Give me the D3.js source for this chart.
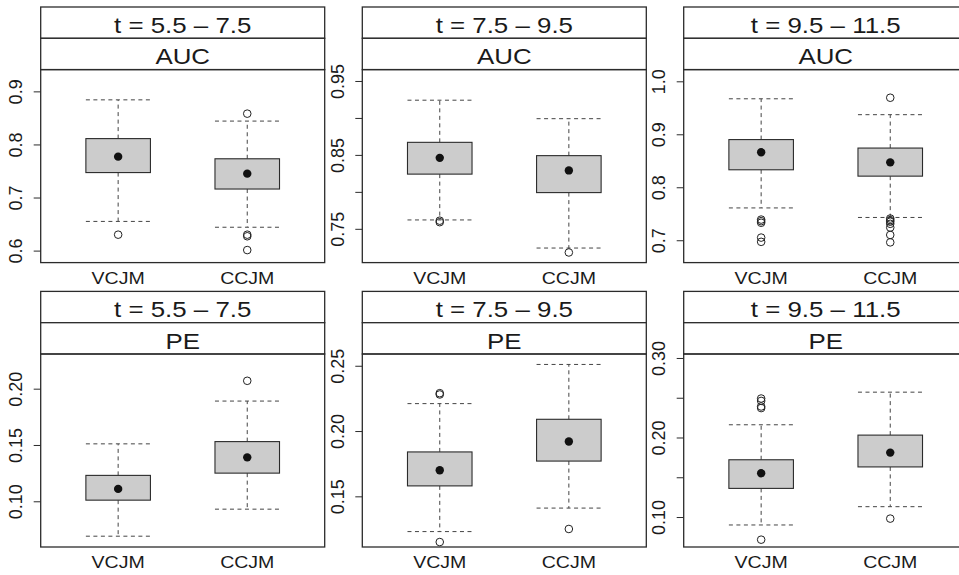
<!DOCTYPE html>
<html>
<head>
<meta charset="utf-8">
<script src="https://cdn.jsdelivr.net/npm/d3@7"></script>
<style>
  body { margin: 0; background: #fff; }
  svg { display: block; font-family: "Liberation Sans", Arial, sans-serif; }
</style>
</head>
<body>
<div id="chart"></div>
<script>
// panel labels
const periods = ["t = 5.5 \u2013 7.5", "t = 7.5 \u2013 9.5", "t = 9.5 \u2013 11.5"];
const measures = ["AUC", "PE"];
const models = ["VCJM", "CCJM"];

// box stats per period: [lower whisker, Q1, median, Q3, upper whisker]
const aucVCJM = [[0.655, 0.747, 0.777, 0.811, 0.884],
                 [0.762, 0.824, 0.846, 0.867, 0.924],
                 [0.761, 0.833, 0.866, 0.890, 0.967]];
const aucCCJM = [[0.644, 0.716, 0.745, 0.773, 0.844],
                 [0.724, 0.799, 0.829, 0.849, 0.899],
                 [0.743, 0.821, 0.847, 0.874, 0.937]];
const peVCJM = [[0.069, 0.101, 0.111, 0.123, 0.151],
                [0.123, 0.158, 0.170, 0.184, 0.221],
                [0.090, 0.136, 0.155, 0.172, 0.216]];
const peCCJM = [[0.093, 0.125, 0.139, 0.153, 0.189],
                [0.141, 0.177, 0.192, 0.209, 0.251],
                [0.113, 0.163, 0.181, 0.203, 0.257]];

// outliers per period
const aucVCJMOut = [[0.630], [0.761, 0.759], [0.739, 0.736, 0.733, 0.705, 0.697]];
const aucCCJMOut = [[0.858, 0.630, 0.627, 0.601], [0.718],
                    [0.969, 0.741, 0.738, 0.735, 0.731, 0.724, 0.710, 0.696]];
const peVCJMOut = [[], [0.229, 0.228, 0.115], [0.249, 0.246, 0.239, 0.237, 0.0715]];
const peCCJMOut = [[0.207], [0.125], [0.098]];

// y ranges and ticks per panel (row AUC, then row PE)
const yDomains = [[[0.5774, 0.941], [0.7043, 0.9654], [0.6578, 1.0221]],
                  [[0.0594, 0.2308], [0.1112, 0.259], [0.0623, 0.305]]];
const yTicks = [[[0.6, 0.7, 0.8, 0.9], [0.75, 0.80, 0.85, 0.90, 0.95], [0.7, 0.8, 0.9, 1.0]],
                [[0.10, 0.15, 0.20], [0.15, 0.20, 0.25], [0.10, 0.15, 0.20, 0.25, 0.30]]];
const yLabels = [[["0.6", "0.7", "0.8", "0.9"], ["0.75", "", "0.85", "", "0.95"], ["0.7", "0.8", "0.9", "1.0"]],
                 [["0.10", "0.15", "0.20"], ["0.15", "0.20", "0.25"], ["0.10", "", "0.20", "", "0.30"]]];

const stats = [[aucVCJM, aucCCJM], [peVCJM, peCCJM]];
const outs = [[aucVCJMOut, aucCCJMOut], [peVCJMOut, peCCJMOut]];

// layout
const width = 959, height = 575;
const panelLeft = [40.7, 362.3, 683.7];
const panelW = 284;
const rowTop = [7, 291.4];
const stripH = 31.3;
const plotH = 193;
const lineCol = "#2b2b2b";
const stretch = 1.15;  // reference glyphs are wider than Liberation Sans

const svg = d3.select("#chart").append("svg")
  .attr("width", width)
  .attr("height", height);

const x = d3.scalePoint().domain(models).range([0, panelW]).padding(0.6);
const boxW = x.step() * 0.5;

function wideText(g, tx, ty, size, label) {
  return g.append("text")
    .attr("transform", `translate(${tx},${ty}) scale(${stretch},1)`)
    .attr("text-anchor", "middle")
    .attr("font-size", size)
    .attr("fill", "#1a1a1a")
    .text(label);
}

measures.forEach(function(measure, r) {
  periods.forEach(function(period, c) {
    const g = svg.append("g")
      .attr("transform", `translate(${panelLeft[c]},${rowTop[r]})`);
    const top = stripH * 2;

    const y = d3.scaleLinear()
      .domain(yDomains[r][c])
      .range([top + plotH, top]);

    // strips
    [period, measure].forEach(function(lab, i) {
      g.append("rect")
        .attr("x", 0).attr("y", i * stripH)
        .attr("width", panelW).attr("height", stripH)
        .attr("fill", "#fff")
        .attr("stroke", lineCol).attr("stroke-width", 1.3);
      wideText(g, panelW / 2, (i + 1) * stripH - 5.3, 22.5, lab);
    });

    // panel frame
    g.append("rect")
      .attr("x", 0).attr("y", top)
      .attr("width", panelW).attr("height", plotH)
      .attr("fill", "none")
      .attr("stroke", lineCol).attr("stroke-width", 1.3);

    // y axis
    const ax = g.append("g")
      .call(d3.axisLeft(y)
        .tickValues(yTicks[r][c])
        .tickSize(7)
        .tickFormat((d, i) => yLabels[r][c][i]));
    ax.select(".domain").remove();
    ax.selectAll(".tick line").attr("stroke", lineCol);
    ax.selectAll(".tick text")
      .attr("transform", "rotate(-90)")
      .attr("x", 0).attr("y", -18.3).attr("dy", 0)
      .attr("text-anchor", "middle")
      .attr("font-size", 18)
      .attr("font-family", "Liberation Sans, Arial, sans-serif")
      .attr("fill", "#1a1a1a");

    // x labels
    models.forEach(function(m) {
      wideText(g, x(m), top + plotH + 21, 17, m);
    });

    // boxes
    models.forEach(function(m, k) {
      const s = stats[r][k][c];
      const cx = x(m);
      const dash = "4,3.5";
      const wcol = "#444";
      // whiskers
      g.append("line")
        .attr("x1", cx).attr("x2", cx)
        .attr("y1", y(s[3])).attr("y2", y(s[4]))
        .attr("stroke", wcol).attr("stroke-dasharray", dash);
      g.append("line")
        .attr("x1", cx).attr("x2", cx)
        .attr("y1", y(s[1])).attr("y2", y(s[0]))
        .attr("stroke", wcol).attr("stroke-dasharray", dash);
      [s[0], s[4]].forEach(function(v) {
        g.append("line")
          .attr("x1", cx - boxW / 2).attr("x2", cx + boxW / 2)
          .attr("y1", y(v)).attr("y2", y(v))
          .attr("stroke", wcol).attr("stroke-dasharray", dash);
      });
      // box
      g.append("rect")
        .attr("x", cx - boxW / 2).attr("y", y(s[3]))
        .attr("width", boxW).attr("height", y(s[1]) - y(s[3]))
        .attr("fill", "#cccccc")
        .attr("stroke", lineCol).attr("stroke-width", 1.1);
      // median dot
      g.append("circle")
        .attr("cx", cx).attr("cy", y(s[2]))
        .attr("r", 4.2)
        .attr("fill", "#111");
      // outliers
      g.selectAll(null)
        .data(outs[r][k][c])
        .join("circle")
          .attr("cx", cx).attr("cy", d => y(d))
          .attr("r", 3.8)
          .attr("fill", "none")
          .attr("stroke", "#222").attr("stroke-width", 1);
    });
  });
});
</script>
</body>
</html>
